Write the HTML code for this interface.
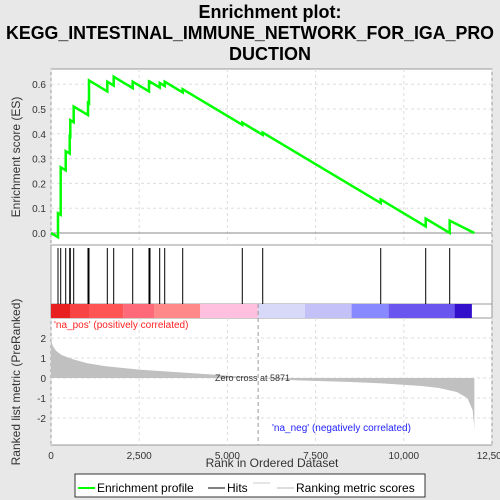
<!DOCTYPE html>
<html><head><meta charset="utf-8"><style>
body{margin:0;background:#e8e8e8;font-family:"Liberation Sans",sans-serif;}
svg{display:block}
</style></head><body>
<svg width="500" height="500" viewBox="0 0 500 500">
<script>
const hitRanks=[198,275,417,530,547,643,1049,1077,1596,1777,2316,2778,2806,3081,3223,3733,5422,6001,9346,10621,11301];
const esPeaks=[0.08,0.265,0.33,0.39,0.455,0.51,0.525,0.615,0.61,0.63,0.61,0.61,0.61,0.605,0.61,0.58,0.445,0.405,0.135,0.058,0.05];
const metricRanks=[0,50,150,300,600,1000,1500,2500,3500,4500,5871,7000,8500,9500,10500,11000,11500,11800,11950,11990,12000];
const metricVals=[1.9,1.6,1.35,1.15,0.95,0.75,0.6,0.42,0.3,0.18,0,-0.12,-0.2,-0.28,-0.4,-0.5,-0.7,-1.0,-1.6,-2.3,-2.6];
const xTicks=[0,2500,5000,7500,10000,12500];
const xTickLabels=["0","2,500","5,000","7,500","10,000","12,500"];
const esTicks=[0,0.1,0.2,0.3,0.4,0.5,0.6];
const metTicks=[2,1,0,-1,-2];
const totalRanks=12000;
const slope=8.5e-5;
</script>
<text x="270" y="18" text-anchor="middle" font-size="18" font-weight="bold">Enrichment plot:</text>
<text x="6" y="39" textLength="488" lengthAdjust="spacingAndGlyphs" font-size="18" font-weight="bold">KEGG_INTESTINAL_IMMUNE_NETWORK_FOR_IGA_PRO</text>
<text x="270" y="60" text-anchor="middle" font-size="18" font-weight="bold">DUCTION</text>
<rect x="51" y="69" width="441" height="376" fill="#fff" stroke="#999"/>
<line x1="51" y1="245" x2="492" y2="245" stroke="#999"/>
<line x1="51" y1="304" x2="492" y2="304" stroke="#999"/>
<line x1="51" y1="318" x2="492" y2="318" stroke="#999"/>
<g id="grid"></g>
<g id="band"></g>
<g id="hits"></g>
<g id="metric"></g>
<g id="es"></g>
<g id="axes"></g>
<text x="20" y="157" transform="rotate(-90 20 157)" text-anchor="middle" font-size="12" fill="#333">Enrichment score (ES)</text>
<text x="20" y="382" transform="rotate(-90 20 382)" text-anchor="middle" font-size="12" fill="#333">Ranked list metric (PreRanked)</text>
<text x="272" y="467" text-anchor="middle" font-size="12" fill="#333">Rank in Ordered Dataset</text>
<text x="54" y="328" font-size="10" fill="#f22">'na_pos' (positively correlated)</text>
<text x="272" y="431" font-size="10" fill="#22f">'na_neg' (negatively correlated)</text>
<text x="215" y="381" font-size="9" fill="#333">Zero cross at 5871</text>
<g>
<rect x="75" y="474" width="350" height="23" fill="#fff" stroke="#333"/>
<line x1="78" y1="488" x2="95" y2="488" stroke="#0f0" stroke-width="2"/>
<text x="97" y="492" font-size="12">Enrichment profile</text>
<line x1="208" y1="488" x2="225" y2="488" stroke="#000" stroke-width="1"/>
<text x="227" y="492" font-size="12">Hits</text>
<line x1="253" y1="483" x2="270" y2="483" stroke="#ccc"/>
<line x1="277" y1="488" x2="294" y2="488" stroke="#bbb"/>
<text x="296" y="492" font-size="12">Ranking metric scores</text>
</g>
<script>
const NS="http://www.w3.org/2000/svg";
const X=r=>51+r*441/12500;
const YE=v=>233-v*248;
const YM=v=>378-v*20;
function mk(tag,attrs,parent){const e=document.createElementNS(NS,tag);for(const k in attrs)e.setAttribute(k,attrs[k]);document.getElementById(parent).appendChild(e);return e;}
xTicks.forEach((t,i)=>{
 const g1=mk('line',{x1:X(t),x2:X(t),y1:69,y2:245,stroke:'#ddd','stroke-dasharray':'3,3'},'grid');
 
 
 const g2=mk('line',{x1:X(t),x2:X(t),y1:318,y2:445,stroke:'#ddd','stroke-dasharray':'3,3'},'grid');
 
 
 const tl=mk('text',{x:X(t),y:459,'text-anchor':'middle','font-size':'10',fill:'#333'},'axes');
 tl.textContent=xTickLabels[i];
 
 
});
esTicks.forEach(t=>{
 const g=mk('line',{x1:51,x2:492,y1:YE(t),y2:YE(t),stroke:t===0?'#888':'#ddd','stroke-dasharray':t===0?'':'3,3'},'grid');
 
 
 const tl=mk('text',{x:46,y:YE(t)+4,'text-anchor':'end','font-size':'10',fill:'#333'},'axes');
 tl.textContent=t.toFixed(1);
 
 
});
metTicks.forEach(t=>{
 const g=mk('line',{x1:51,x2:492,y1:YM(t),y2:YM(t),stroke:'#ddd','stroke-dasharray':'3,3'},'grid');
 
 
 const tl=mk('text',{x:46,y:YM(t)+4,'text-anchor':'end','font-size':'10',fill:'#333'},'axes');
 tl.textContent=String(t);
 
 
});
const bandSegs=[[0,550,'#e82020'],[550,1077,'#f84444'],[1077,2050,'#ff5555'],[2050,2930,'#ff6a7a'],[2930,4230,'#ff8888'],[4230,5871,'#ffc0e0'],[5871,7200,'#d8d8f8'],[7200,8520,'#c4c0f8'],[8520,9570,'#8888ff'],[9570,11440,'#6a55ee'],[11440,11930,'#3311cc']];
bandSegs.forEach(s=>{const r=mk('rect',{x:X(s[0]),y:304,width:X(s[1])-X(s[0]),height:14,fill:s[2]},'band');
 
 });
hitRanks.forEach(h=>{const l=mk('line',{x1:X(h),x2:X(h),y1:248,y2:304,stroke:'#000'},'hits');
 
 });
let pts=[X(0)+','+YM(0)];
metricRanks.forEach((r,i)=>pts.push(X(r)+','+YM(metricVals[i])));
pts.push(X(totalRanks)+','+YM(0));
const area=mk('polygon',{points:pts.join(' '),fill:'#c0c0c0'},'metric');


const zl=mk('line',{x1:X(5871),x2:X(5871),y1:304,y2:445,stroke:'#999','stroke-dasharray':'4,3'},'metric');


let ep=[X(0)+','+YE(0)];let prevR=0,prevV=0;
hitRanks.forEach((h,i)=>{const trough=prevV-(h-prevR)*slope;ep.push(X(h)+','+YE(trough));ep.push(X(h)+','+YE(esPeaks[i]));prevR=h;prevV=esPeaks[i];});
ep.push(X(totalRanks)+','+YE(0));
const es=mk('polyline',{points:ep.join(' '),fill:'none',stroke:'#0f0','stroke-width':'2.5'},'es');


</script>
</svg>
</body></html>
